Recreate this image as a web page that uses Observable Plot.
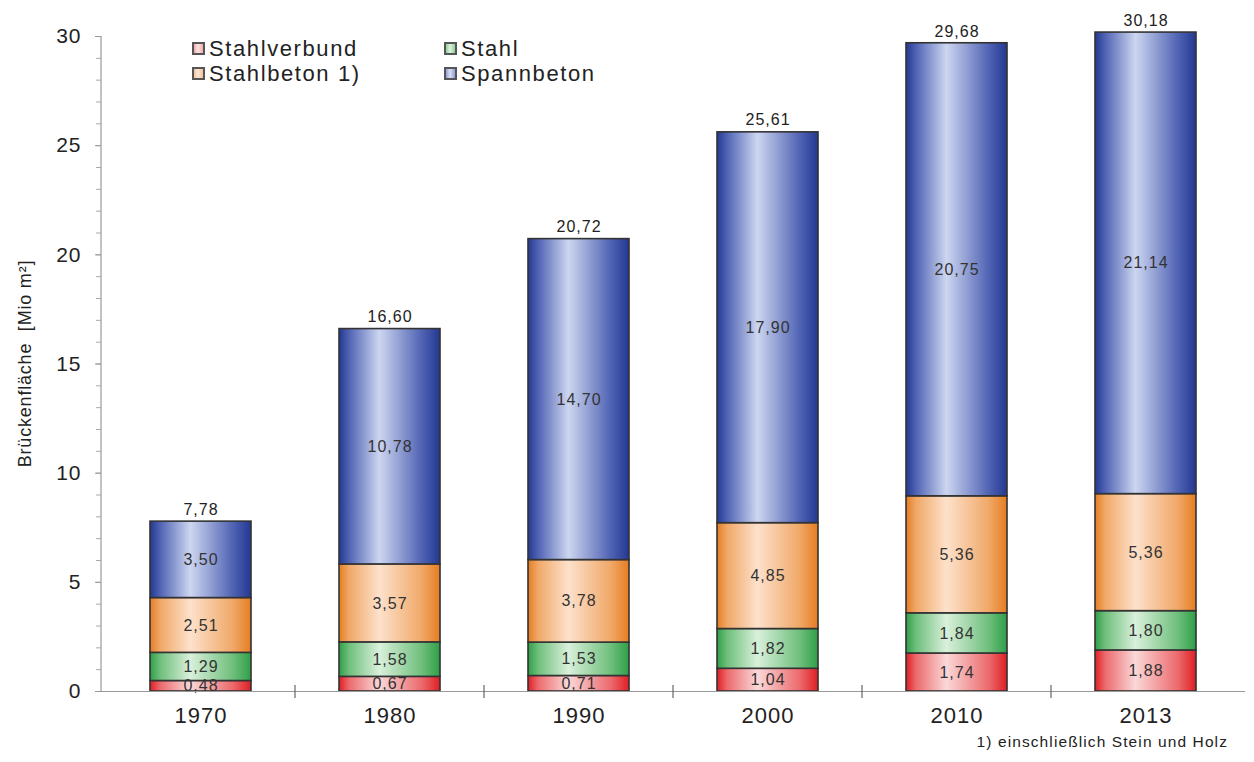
<!DOCTYPE html>
<html>
<head>
<meta charset="utf-8">
<script src="https://cdn.jsdelivr.net/npm/d3@7"></script>
<script src="https://cdn.jsdelivr.net/npm/@observablehq/plot@0.6"></script>
<style>
  html, body { margin: 0; padding: 0; background: #fff; }
  #wrap { position: relative; width: 1254px; height: 762px; font-family: "Liberation Sans", Arial, sans-serif; color: #222; }
  #legend { position: absolute; left: 192px; top: 36px; font-size: 22px; letter-spacing: 1.6px; line-height: 25px; }
  #legend .item { position: absolute; white-space: nowrap; display: flex; align-items: center; }
  #legend .sw { width: 9px; height: 9px; border: 2px solid #555; margin-right: 4px; }
  #foot { position: absolute; right: 26px; top: 733px; font-size: 15.5px; letter-spacing: 1.1px; color: #222; }
</style>
</head>
<body>
<div id="wrap">
  <div id="chart"></div>
  <div id="legend"></div>
  <div id="foot">1) einschließlich Stein und Holz</div>
</div>
<script>
const years = ["1970", "1980", "1990", "2000", "2010", "2013"];
const series = ["Stahlverbund", "Stahl", "Stahlbeton 1)", "Spannbeton"];
const stahlverbund = [0.48, 0.67, 0.71, 1.04, 1.74, 1.88];
const stahl = [1.29, 1.58, 1.53, 1.82, 1.84, 1.80];
const stahlbeton = [2.51, 3.57, 3.78, 4.85, 5.36, 5.36];
const spannbeton = [3.50, 10.78, 14.70, 17.90, 20.75, 21.14];
const totals = [7.78, 16.60, 20.72, 25.61, 29.68, 30.18];
const yTicks = [0, 5, 10, 15, 20, 25, 30];
const yMinorTicks = d3.range(0, 31, 1);
const yLabel = "Brückenfläche  [Mio m²]";

// gradient colors: [edge, mid, light]
const gradColors = [
  ["#df1f24", "#ec6a6d", "#fad8d8"],
  ["#2f9f48", "#6fbf7c", "#d9f0db"],
  ["#e67d22", "#f0a868", "#fde1cb"],
  ["#233891", "#5063b4", "#cdd6f0"]
];
const gradIds = ["gRed", "gGreen", "gOrange", "gBlue"];

const valuesBySeries = [stahlverbund, stahl, stahlbeton, spannbeton];
const data = [];
series.forEach((s, si) => years.forEach((y, yi) => data.push({year: y, series: s, value: valuesBySeries[si][yi]})));
const totalData = years.map((y, i) => ({year: y, total: totals[i]}));
const fmt = v => v.toFixed(2).replace(".", ",");

const plot = Plot.plot({
  width: 1254,
  height: 762,
  marginLeft: 101,
  marginRight: 9,
  marginTop: 36,
  marginBottom: 71,
  style: {fontFamily: "'Liberation Sans', Arial, sans-serif", color: "#222", background: "#fff", letterSpacing: "1px"},
  x: {domain: years, paddingInner: 0.468, paddingOuter: 0.245, label: null},
  y: {domain: [0, 30], label: null},
  color: {domain: series, range: gradIds.map(id => `url(#${id})`)},
  marks: [
    Plot.axisY({ticks: yMinorTicks, tickSize: 5, tickFormat: () => "", stroke: "#aaa"}),
    Plot.axisY({ticks: yTicks, tickSize: 6, tickPadding: 14, fontSize: 21, stroke: "#999", fill: "#222", label: null}),
    Plot.axisX({tickSize: 0, tickPadding: 16, fontSize: 22, fill: "#222", label: null}),
    Plot.barY(data, Plot.stackY({x: "year", y: "value", z: "series", fill: "series", order: series, stroke: "#333", strokeWidth: 1.6})),
    Plot.text(data, Plot.stackY({x: "year", y: "value", z: "series", order: series, text: d => fmt(d.value), fontSize: 16, fill: "#333"})),
    Plot.text(totalData, {x: "year", y: "total", text: d => fmt(d.total), dy: -12, fontSize: 16, fill: "#222"}),
    Plot.ruleY([0], {stroke: "#999", strokeWidth: 1.2})
  ]
});

const svg = d3.select(plot);
const defs = svg.insert("defs", ":first-child");
gradIds.forEach((id, i) => {
  const [edge, mid, light] = gradColors[i];
  const g = defs.append("linearGradient").attr("id", id).attr("x1", 0).attr("x2", 1).attr("y1", 0).attr("y2", 0);
  [[0, edge], [0.1, mid], [0.4, light], [0.82, mid], [1, edge]].forEach(([o, c]) =>
    g.append("stop").attr("offset", o).attr("stop-color", c));
});

// y-axis line and x-axis boundary ticks, from the library's scales
const sx = plot.scale("x");
const sy = plot.scale("y");
const x0 = sx.range[0];
svg.append("line").attr("x1", x0).attr("x2", x0)
  .attr("y1", sy.apply(0)).attr("y2", sy.apply(30))
  .attr("stroke", "#999").attr("stroke-width", 1.2);
years.slice(1).forEach(y => {
  const bx = sx.apply(y) + sx.bandwidth / 2 - sx.step / 2;
  svg.append("line").attr("x1", bx).attr("x2", bx)
    .attr("y1", sy.apply(0) - 6).attr("y2", sy.apply(0) + 7)
    .attr("stroke", "#666").attr("stroke-width", 1.2);
});
// y axis title
svg.append("text")
  .attr("transform", `translate(31,${(sy.apply(0) + sy.apply(30)) / 2}) rotate(-90)`)
  .attr("text-anchor", "middle")
  .attr("font-size", 18)
  .attr("fill", "#222")
  .style("letter-spacing", "0.8px")
  .text(yLabel);

document.getElementById("chart").appendChild(plot);

// legend
const legend = document.getElementById("legend");
const lightCss = [
  ["#f3a9ab", "#fbe3e3"],
  ["#8fd098", "#dff2e1"],
  ["#f4c29a", "#fde7d6"],
  ["#909fd8", "#dbe1f4"]
];
const legendPos = [[0, 0], [252, 0], [0, 25], [252, 25]];
series.forEach((s, i) => {
  const item = document.createElement("div");
  item.className = "item";
  item.style.left = legendPos[i][0] + "px";
  item.style.top = legendPos[i][1] + "px";
  const sw = document.createElement("span");
  sw.className = "sw";
  sw.style.background = `linear-gradient(to right, ${lightCss[i][0]}, ${lightCss[i][1]} 45%, ${lightCss[i][0]})`;
  const t = document.createElement("span");
  t.textContent = s;
  item.appendChild(sw);
  item.appendChild(t);
  legend.appendChild(item);
});
</script>
</body>
</html>
